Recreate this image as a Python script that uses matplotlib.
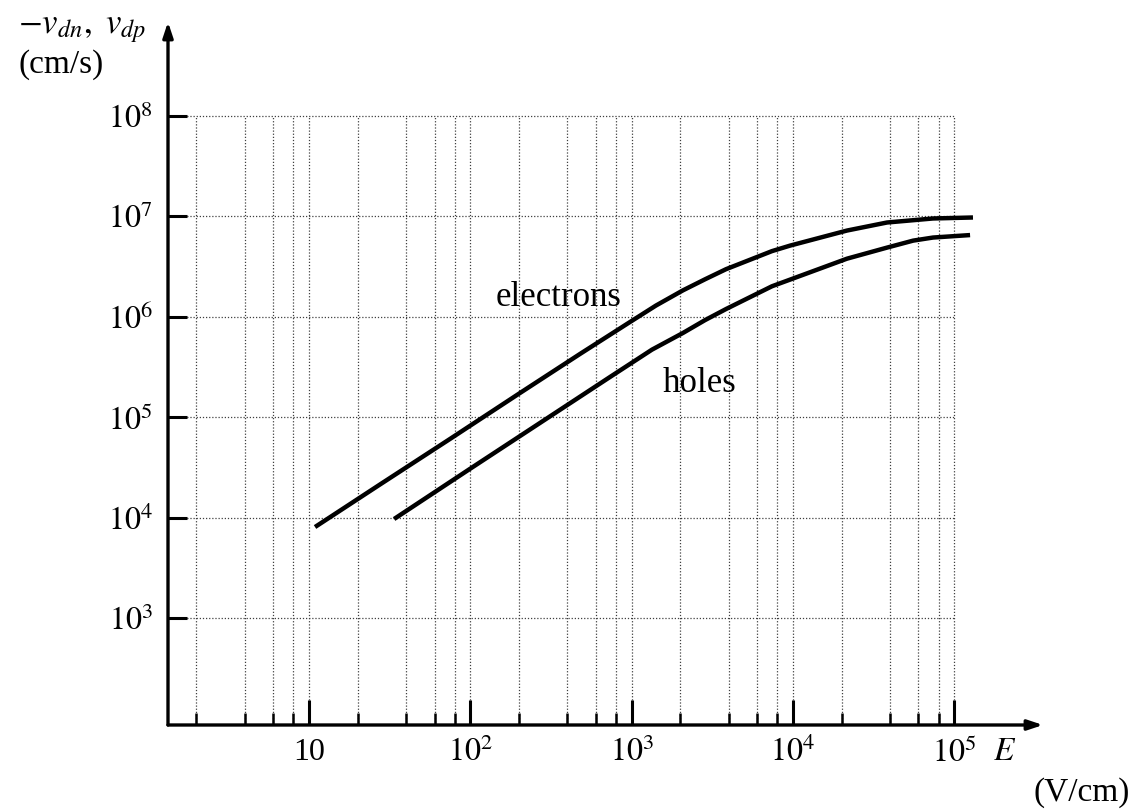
import matplotlib
matplotlib.use('Agg')
import matplotlib.pyplot as plt
from matplotlib.ticker import FixedLocator, FixedFormatter, NullFormatter

plt.rcParams['font.family'] = ['Liberation Serif', 'DejaVu Serif']
plt.rcParams['mathtext.fontset'] = 'stix'

# ---- data ----
E_electrons = [10.9, 27.5, 74.8, 203, 479, 977, 1416, 2080, 2850, 3850, 7410, 9600,
               21600, 38300, 73800, 130600]
v_electrons = [8.13e3, 2.15e4, 6.11e4, 1.75e5, 4.29e5, 8.91e5, 1.30e6, 1.84e6, 2.37e6,
               2.99e6, 4.52e6, 5.13e6, 7.24e6, 8.71e6, 9.55e6, 9.77e6]
E_holes = [33.7, 99.5, 270, 735, 1337, 2080, 2850, 3850, 7410, 21600, 38300, 55600,
           73800, 125300]
v_holes = [9.77e3, 3.08e4, 8.81e4, 2.53e5, 4.73e5, 6.93e5, 9.3e5, 1.20e6, 2.02e6,
           3.80e6, 4.90e6, 5.75e6, 6.17e6, 6.53e6]

x_major = [10, 1e2, 1e3, 1e4, 1e5]
x_major_labels = ['10', r'$10^2$', r'$10^3$', r'$10^4$', r'$10^5$']
x_minor = [m * d for d in [1, 10, 100, 1000, 10000] for m in (2, 4, 6, 8)]
y_major = [1e3, 1e4, 1e5, 1e6, 1e7, 1e8]
y_major_labels = [r'$10^3$', r'$10^4$', r'$10^5$', r'$10^6$', r'$10^7$', r'$10^8$']

W, H = 1140, 810
fig = plt.figure(figsize=(W / 100, H / 100), dpi=100)
ax = fig.add_axes([168 / W, 85 / H, (1043 - 168) / W, (725 - 22) / H])
ax.set_xscale('log')
ax.set_yscale('log')
ax.set_xlim(10 ** 0.126, 10 ** 5.55)
ax.set_ylim(10 ** 1.94, 10 ** 8.935)

for s in ax.spines.values():
    s.set_visible(False)

# grid (dotted, bounded to the 10^5 / 10^8 box)
grid_x = x_minor + x_major
ax.vlines(grid_x, 10 ** 1.94, 1e8, colors='0.25', linestyles=(0, (1, 1.5)), lw=0.9, zorder=1)
ax.hlines(y_major, 10 ** 0.126, 1e5, colors='0.25', linestyles=(0, (1, 1.5)), lw=0.9, zorder=1)

# ticks
ax.xaxis.set_major_locator(FixedLocator(x_major))
ax.xaxis.set_major_formatter(FixedFormatter(x_major_labels))
ax.xaxis.set_minor_locator(FixedLocator(x_minor))
ax.xaxis.set_minor_formatter(NullFormatter())
ax.yaxis.set_major_locator(FixedLocator(y_major))
ax.yaxis.set_major_formatter(FixedFormatter(y_major_labels))
ax.yaxis.set_minor_locator(FixedLocator([]))
ax.tick_params(axis='x', which='major', direction='in', length=18, width=2.2,
               labelsize=23, pad=9)
ax.tick_params(axis='x', which='minor', direction='in', length=9, width=1.8)
ax.tick_params(axis='y', which='major', direction='in', length=14, width=2.2,
               labelsize=23, pad=11)

# axes with arrows
arrow = dict(arrowstyle='-|>,head_length=0.9,head_width=0.3', lw=2.4, color='black',
             shrinkA=0, shrinkB=0)
ax.annotate('', xy=(1, 0), xytext=(0, 0), xycoords='axes fraction',
            textcoords='axes fraction', arrowprops=arrow, annotation_clip=False)
ax.annotate('', xy=(0, 1), xytext=(0, 0), xycoords='axes fraction',
            textcoords='axes fraction', arrowprops=arrow, annotation_clip=False)

# curves
ax.plot(E_electrons, v_electrons, color='black', lw=3.2, solid_capstyle='butt',
        solid_joinstyle='round', zorder=3)
ax.plot(E_holes, v_holes, color='black', lw=3.2, solid_capstyle='butt',
        solid_joinstyle='round', zorder=3)

ax.text(350, 1.58e6, 'electrons', fontsize=25, ha='center', va='center')
ax.text(2620, 2.2e5, 'holes', fontsize=25, ha='center', va='center')

# axis labels
fig.text(18 / W, 1 - 28 / H, r'$-v_{dn},\ v_{dp}$', fontsize=25, ha='left', va='center')
fig.text(18 / W, 1 - 65 / H, '(cm/s)', fontsize=24, ha='left', va='center')
fig.text(1005 / W, 1 - 752 / H, r'$E$', fontsize=24, ha='center', va='center')
fig.text(1082 / W, 1 - 793 / H, '(V/cm)', fontsize=24, ha='center', va='center')

fig.savefig('out.png', dpi=100)
